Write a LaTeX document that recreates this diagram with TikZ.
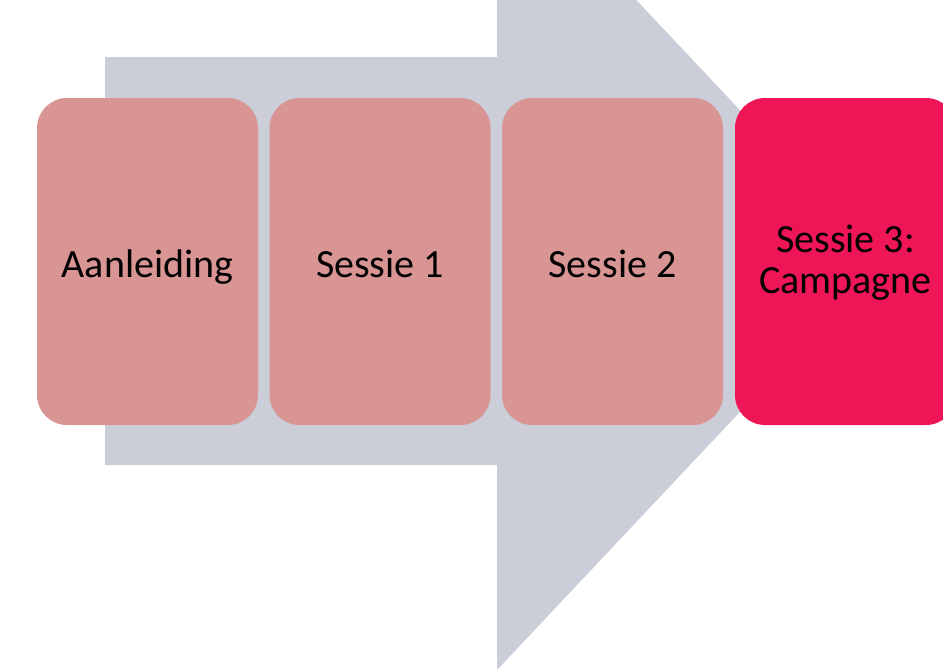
\documentclass[tikz,border=0pt]{standalone}
\usepackage{fontspec}
\setmainfont{Carlito}
\definecolor{arrowgray}{HTML}{CBCED8}
\definecolor{stagepink}{HTML}{D99594}
\definecolor{stagehot}{HTML}{EE1656}
\tikzset{
  stagebox/.style={fill=stagepink, draw=none, rounded corners=30pt, minimum width=221pt, minimum height=327pt, inner sep=0pt},
  hotbox/.style={stagebox, fill=stagehot},
  stagetext/.style={anchor=base, inner sep=0pt, font=\fontsize{40}{41}\selectfont, text=black}
}
\begin{document}
\begin{tikzpicture}[x=1pt, y=-1pt]
\useasboundingbox (0,0) rectangle (943,672);
\clip (0,0) rectangle (943,672);
% big arrow
\fill[arrowgray] (105,57) -- (497,57) -- (497,-148) -- (882,261) -- (497,670) -- (497,465) -- (105,465) -- cycle;
% stages
\node[stagebox] (a) at (147.5,261.5) {};
\node[stagebox] (b) at (380,261.5) {};
\node[stagebox] (c) at (612.5,261.5) {};
\node[hotbox] (d) at (845.5,261.5) {};
\node[stagetext] (at) at (147.5,277) {Aanleiding};
\node[stagetext] (bt) at (380,277) {Sessie 1};
\node[stagetext] (ct) at (612.5,277) {Sessie 2};
\node[stagetext] (dt1) at (845.5,252) {Sessie 3:};
\node[stagetext] (dt2) at (845.5,293) {Campagne};
\end{tikzpicture}
\end{document}
